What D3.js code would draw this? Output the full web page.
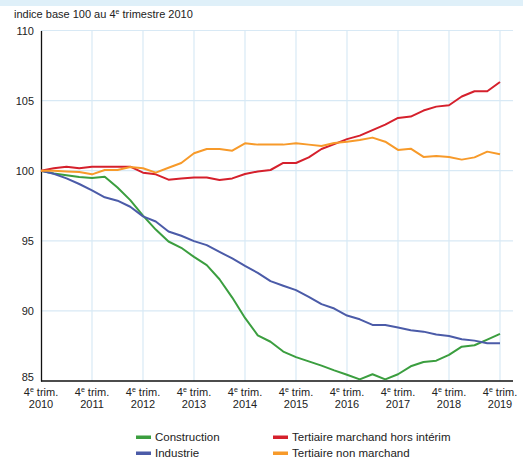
<!DOCTYPE html>
<html>
<head>
<meta charset="utf-8">
<script src="https://cdnjs.cloudflare.com/ajax/libs/d3/7.8.5/d3.min.js"></script>
<style>
  body { margin: 0; background: #fff; }
  svg { display: block; font-family: "Liberation Sans", Arial, sans-serif; }
</style>
</head>
<body>
<div id="chart"></div>
<script>
// quarters, 4e trim. 2010 -> 4e trim. 2019
var periods = ["2010T4",
  "2011T1", "2011T2", "2011T3", "2011T4",
  "2012T1", "2012T2", "2012T3", "2012T4",
  "2013T1", "2013T2", "2013T3", "2013T4",
  "2014T1", "2014T2", "2014T3", "2014T4",
  "2015T1", "2015T2", "2015T3", "2015T4",
  "2016T1", "2016T2", "2016T3", "2016T4",
  "2017T1", "2017T2", "2017T3", "2017T4",
  "2018T1", "2018T2", "2018T3", "2018T4",
  "2019T1", "2019T2", "2019T3", "2019T4"];

var construction = [100, 99.8, 99.67, 99.55, 99.48, 99.57, 98.8, 97.9, 96.8, 95.8, 94.95, 94.5, 93.85,
  93.26, 92.26, 90.95, 89.5, 88.26, 87.8, 87.1, 86.7, 86.4, 86.1, 85.76, 85.45, 85.12, 85.48, 85.12,
  85.48, 86.05, 86.36, 86.45, 86.86, 87.45, 87.55, 87.95, 88.36];

var industrie = [100, 99.78, 99.45, 99.05, 98.6, 98.1, 97.86, 97.43, 96.74, 96.38, 95.66, 95.36, 94.98,
  94.69, 94.21, 93.74, 93.21, 92.71, 92.12, 91.79, 91.48, 91.0, 90.48, 90.17, 89.67, 89.4, 89.0, 89.0,
  88.81, 88.62, 88.52, 88.31, 88.21, 87.98, 87.88, 87.69, 87.69];

var tertMarchand = [100, 100.17, 100.29, 100.17, 100.29, 100.29, 100.29, 100.29, 99.86, 99.74, 99.36,
  99.45, 99.52, 99.52, 99.33, 99.45, 99.76, 99.95, 100.05, 100.55, 100.55, 100.95, 101.55, 101.9, 102.25,
  102.5, 102.9, 103.29, 103.76, 103.86, 104.29, 104.57, 104.67, 105.29, 105.67, 105.67, 106.33];

var tertNonMarchand = [100, 100.0, 99.95, 99.9, 99.74, 100.05, 100.05, 100.26, 100.17, 99.86, 100.21,
  100.55, 101.24, 101.55, 101.55, 101.43, 101.95, 101.86, 101.86, 101.86, 101.95, 101.86, 101.76, 101.98,
  102.07, 102.19, 102.36, 102.07, 101.48, 101.57, 100.98, 101.05, 100.98, 100.79, 100.95, 101.36, 101.17];

var yTicks = [85, 90, 95, 100, 105, 110];

var seriesNames = ["Construction", "Industrie", "Tertiaire marchand hors intérim", "Tertiaire non marchand"];

var width = 523,
    height = 461;

var colors = {"Construction": "#3b9e3f",
              "Industrie": "#4b5ba8",
              "Tertiaire marchand hors intérim": "#d5202c",
              "Tertiaire non marchand": "#f79a2a"};

var series = [
  {name: "Construction", values: construction},
  {name: "Industrie", values: industrie},
  {name: "Tertiaire marchand hors intérim", values: tertMarchand},
  {name: "Tertiaire non marchand", values: tertNonMarchand}
];

var svg = d3.select("#chart")
  .append("svg")
  .attr("width", width)
  .attr("height", height);

// light blue band at the top
svg.append("rect")
  .attr("x", 0).attr("y", 0)
  .attr("width", width).attr("height", 6)
  .attr("fill", "#dff0f9");

var x = d3.scalePoint()
  .domain(periods)
  .range([41, 500]);

var y = d3.scaleLinear()
  .domain([85, 110])
  .range([381, 30.5]);

var gridRight = 513;
var yearTicks = periods.filter(function (p) { return p.slice(4) == "T4"; });

// grid
svg.append("g")
  .selectAll("line")
  .data(yTicks.filter(function (d) { return d != 85; }))
  .enter().append("line")
  .attr("x1", x.range()[0]).attr("x2", gridRight)
  .attr("y1", (d) => y(d)).attr("y2", (d) => y(d))
  .attr("stroke", "#d8e9f5")
  .attr("stroke-width", 1.2);

svg.append("g")
  .selectAll("line")
  .data(yearTicks.slice(1))
  .enter().append("line")
  .attr("x1", (d) => x(d)).attr("x2", (d) => x(d))
  .attr("y1", y(110)).attr("y2", y(85))
  .attr("stroke", "#d8e9f5")
  .attr("stroke-width", 1.2);

// title
var title = svg.append("text")
  .attr("x", 14)
  .attr("y", 18)
  .style("font-size", "11px")
  .style("fill", "#222");
title.append("tspan").text("indice base 100 au 4");
title.append("tspan").text("e").attr("dy", -4).style("font-size", "7px");
title.append("tspan").text(" trimestre 2010").attr("dy", 4);

// y axis
var yAxis = svg.append("g")
  .attr("transform", "translate(41,0)")
  .call(d3.axisLeft(y).tickValues(yTicks).tickSize(0).tickPadding(7));
yAxis.select(".domain").attr("stroke", "#111").attr("stroke-width", 1.3);
yAxis.selectAll("text")
  .style("font-size", "11px")
  .style("fill", "#222")
  .style("font-family", "Liberation Sans, Arial, sans-serif")
  .attr("dy", (d) => d == 85 ? "-0.05em" : "0.32em");

// x axis line
svg.append("line")
  .attr("x1", 41).attr("x2", gridRight)
  .attr("y1", y(85)).attr("y2", y(85))
  .attr("stroke", "#111")
  .attr("stroke-width", 1.3);

// x labels
var xl = svg.append("g")
  .selectAll("g")
  .data(yearTicks)
  .enter().append("g")
  .attr("transform", (d) => "translate(" + x(d) + ",0)");

var l1 = xl.append("text")
  .attr("y", 396)
  .style("text-anchor", "middle")
  .style("font-size", "11px")
  .style("fill", "#222");
l1.append("tspan").text("4");
l1.append("tspan").text("e").attr("dy", -4).style("font-size", "7px");
l1.append("tspan").text(" trim.").attr("dy", 4);

xl.append("text")
  .attr("y", 408)
  .style("text-anchor", "middle")
  .style("font-size", "11px")
  .style("fill", "#222")
  .text((d) => d.slice(0, 4));

// lines
var line = d3.line()
  .x((d, i) => x(periods[i]))
  .y((d) => y(d));

svg.append("g")
  .selectAll("path")
  .data(series)
  .enter().append("path")
  .attr("d", (d) => line(d.values))
  .attr("fill", "none")
  .attr("stroke", (d) => colors[d.name])
  .attr("stroke-width", 2)
  .attr("stroke-linejoin", "round");

// legend, two columns
var legendPos = [[136, 437], [136, 453], [273, 437], [273, 453]];
var legend = svg.append("g")
  .selectAll("g")
  .data(seriesNames)
  .enter().append("g")
  .attr("transform", (d, i) => "translate(" + legendPos[i][0] + "," + legendPos[i][1] + ")");

legend.append("rect")
  .attr("x", 0).attr("y", -1.5)
  .attr("width", 15).attr("height", 3.5)
  .attr("fill", (d) => colors[d]);

legend.append("text")
  .attr("x", 19)
  .attr("y", 4)
  .style("font-size", "11.5px")
  .style("fill", "#222")
  .text((d) => d);
</script>
</body>
</html>
